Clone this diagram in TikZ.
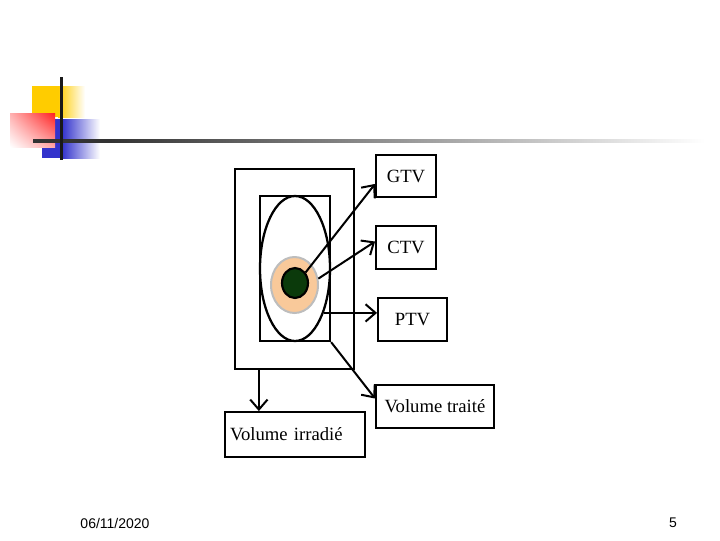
\documentclass[tikz,border=0pt]{standalone}
\usepackage{fontspec}
\setmainfont{Liberation Serif}
\newfontfamily\footfont{Liberation Sans}
\usetikzlibrary{arrows.meta,shapes.geometric,calc,shadings}
\definecolor{peach}{HTML}{F9C99A}
\definecolor{halogray}{HTML}{BDBDBD}
\definecolor{coregreen}{HTML}{0B3A0B}
\definecolor{logoyellow}{HTML}{FFCC00}
\definecolor{logoblue}{HTML}{3333CC}
\definecolor{logored}{HTML}{FF2020}
\tikzset{
  frame/.style={draw=black, line width=1.7pt, rectangle, inner sep=0pt},
  labelbox/.style={draw=black, line width=1.4pt, rectangle, inner sep=0pt, font=\fontsize{14}{16}\selectfont},
  link/.style={draw=black, line width=1.5pt, -{Straight Barb[length=7.5pt,width=13pt,line width=1.5pt]}},
  foot/.style={font=\footfont\fontsize{10.5}{12}\selectfont, inner sep=0pt}
}
\begin{document}
\begin{tikzpicture}[x=0.75pt,y=-0.75pt]
\useasboundingbox (0,0) rectangle (720,540);
% logo
\fill[logoyellow] (32,86) rectangle (58,117);
\shade[left color=logoyellow, right color=white] (58,86) rectangle (85,117);
\fill[logoblue] (42,119) rectangle (62,158);
\shade[left color=logoblue, right color=white] (62,119) rectangle (100,158);
\shade[upper right=logored, upper left=logored!35!white, lower right=logored!40!white, lower left=white] (10,113) rectangle (55,147);
\shade[left color=black!80, right color=black!80] (33,139.5) rectangle (110,142.5);
\shade[left color=black!80, right color=white] (110,139.5) rectangle (705,142.5);
\fill[black!90] (60,77) rectangle (63,160);
% diagram
\node[frame, minimum width=89.25pt, minimum height=150pt] (outer) at (294.5,269) {};
\node[frame, minimum width=52.5pt, minimum height=108.75pt] (inner) at (295,268.5) {};
\node[ellipse, draw=black, line width=1.7pt, inner sep=0pt, minimum width=52.5pt, minimum height=108.75pt] (ell) at (295,268.5) {};
\node[ellipse, draw=halogray, fill=peach, line width=1.5pt, inner sep=0pt, minimum width=35.25pt, minimum height=42pt] (halo) at (294.5,285) {};
\node[ellipse, draw=black, fill=coregreen, line width=1.6pt, inner sep=0pt, minimum width=19.5pt, minimum height=22.5pt] (core) at (295,283) {};
\node[labelbox, minimum width=45pt, minimum height=31.5pt] (gtv) at (406,176) {GTV};
\node[labelbox, minimum width=45pt, minimum height=32.25pt] (ctv) at (406,247.5) {CTV};
\node[labelbox, minimum width=51.75pt, minimum height=32.25pt] (ptv) at (412.5,319.5) {PTV};
\node[labelbox, minimum width=88.5pt, minimum height=32.25pt] (vt) at (435,406.5) {Volume traité};
\node[labelbox, minimum height=33.75pt, inner xsep=3.75pt, text width=97.5pt, align=left] (vi) at (295,434.5) {Volume irradié};
% connectors
\draw[link] (core.45) -- ([yshift=10.5pt]gtv.south west);
\draw[link] (halo.15) -- ([yshift=4.5pt]ctv.west);
\draw[link] (ell.-57.5) -- (ell.-57.5 -| ptv.west);
\draw[link] (inner.south east) -- ([yshift=6pt]vt.west);
\draw[link] (inner.west |- outer.south) -- (inner.west |- vi.north);
% footer
\node[foot] (date) at (115,523) {06/11/2020};
\node[foot] (page) at (673,523) {5};
\end{tikzpicture}
\end{document}
